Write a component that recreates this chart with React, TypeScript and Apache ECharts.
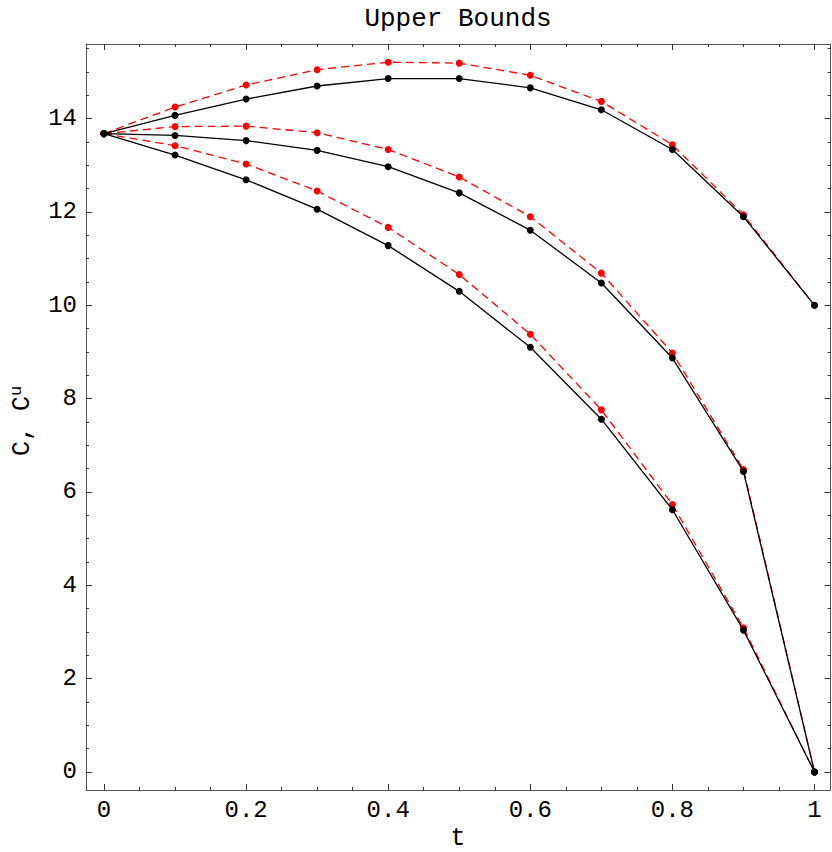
import React, { useEffect, useRef } from "react";
import * as echarts from "echarts";

const T = [0, 0.1, 0.2, 0.3, 0.4, 0.5, 0.6, 0.7, 0.8, 0.9, 1];

const TOP_C = [13.68, 14.07, 14.42, 14.7, 14.86, 14.86, 14.66, 14.19, 13.34, 11.9, 10.0];
const TOP_CU = [13.68, 14.25, 14.72, 15.05, 15.21, 15.19, 14.93, 14.37, 13.44, 11.94, 10.0];
const MID_C = [13.68, 13.64, 13.53, 13.32, 12.97, 12.41, 11.61, 10.48, 8.87, 6.44, 0];
const MID_CU = [13.68, 13.83, 13.84, 13.7, 13.34, 12.75, 11.9, 10.69, 8.98, 6.48, 0];
const LOW_C = [13.68, 13.22, 12.69, 12.06, 11.28, 10.3, 9.1, 7.56, 5.62, 3.04, 0];
const LOW_CU = [13.68, 13.42, 13.03, 12.45, 11.67, 10.66, 9.38, 7.76, 5.73, 3.09, 0];

const X_TICKS = [0, 0.2, 0.4, 0.6, 0.8, 1];
const X_TICK_LABELS = ["0", "0.2", "0.4", "0.6", "0.8", "1"];
const X_MINOR = [0.05, 0.1, 0.15, 0.25, 0.3, 0.35, 0.45, 0.5, 0.55, 0.65, 0.7, 0.75, 0.85, 0.9, 0.95];
const Y_TICKS = [0, 2, 4, 6, 8, 10, 12, 14];
const Y_TICK_LABELS = ["0", "2", "4", "6", "8", "10", "12", "14"];
const Y_MINOR = [0.5, 1, 1.5, 2.5, 3, 3.5, 4.5, 5, 5.5, 6.5, 7, 7.5, 8.5, 9, 9.5, 10.5, 11, 11.5, 12.5, 13, 13.5, 14.5, 15, 15.5];

const X_MIN = -0.0253;
const X_MAX = 1.0225;
const Y_MIN = -0.386;
const Y_MAX = 15.6;

const FONT = "Liberation Mono";
const FRAME = "#555";

function pairs(vals: number[]) {
  return T.map((t, i) => [t, vals[i]]);
}

function lookup(ticks: number[], labels: string[], v: number) {
  const i = ticks.findIndex((x) => Math.abs(x - v) < 1e-9);
  return i >= 0 ? labels[i] : "";
}

function xAxisDef(position: "top" | "bottom", major: boolean, showLabels: boolean) {
  return {
    type: "value",
    position,
    min: X_MIN,
    max: X_MAX,
    axisLine: { show: major, onZero: false, lineStyle: { color: FRAME, width: 1 } },
    axisTick: {
      show: true,
      inside: true,
      length: major ? 6 : 3,
      lineStyle: { color: "#333", width: 1 },
      customValues: major ? X_TICKS : X_MINOR,
    },
    axisLabel: {
      show: showLabels,
      customValues: X_TICKS,
      margin: 8,
      fontFamily: FONT,
      fontSize: 24,
      color: "#000",
      formatter: (v: number) => lookup(X_TICKS, X_TICK_LABELS, v),
    },
    splitLine: { show: false },
  };
}

function yAxisDef(position: "left" | "right", major: boolean, showLabels: boolean) {
  return {
    type: "value",
    position,
    min: Y_MIN,
    max: Y_MAX,
    axisLine: { show: major, onZero: false, lineStyle: { color: FRAME, width: 1 } },
    axisTick: {
      show: true,
      inside: true,
      length: major ? 6 : 3,
      lineStyle: { color: "#333", width: 1 },
      customValues: major ? Y_TICKS : Y_MINOR,
    },
    axisLabel: {
      show: showLabels,
      customValues: Y_TICKS,
      margin: 9,
      fontFamily: FONT,
      fontSize: 24,
      color: "#000",
      formatter: (v: number) => lookup(Y_TICKS, Y_TICK_LABELS, v),
    },
    splitLine: { show: false },
  };
}

function redSeries(vals: number[]) {
  return {
    type: "line",
    data: pairs(vals),
    symbol: "circle",
    symbolSize: 7,
    itemStyle: { color: "#ff0000" },
    lineStyle: { color: "#ff0000", width: 1.3, type: [8, 5] },
    z: 2,
  };
}

function blackSeries(vals: number[]) {
  return {
    type: "line",
    data: pairs(vals),
    symbol: "circle",
    symbolSize: 7,
    itemStyle: { color: "#000" },
    lineStyle: { color: "#000", width: 1.3 },
    z: 3,
  };
}

export default function App() {
  const ref = useRef<HTMLDivElement>(null);

  useEffect(() => {
    if (!ref.current) return;
    const chart = echarts.init(ref.current, undefined, { renderer: "svg" });
    chart.setOption({
      animation: false,
      backgroundColor: "#fff",
      grid: { left: 86, right: 1.5, top: 44, bottom: 62, containLabel: false },
      xAxis: [
        xAxisDef("bottom", true, true),
        xAxisDef("bottom", false, false),
        xAxisDef("top", true, false),
        xAxisDef("top", false, false),
      ],
      yAxis: [
        yAxisDef("left", true, true),
        yAxisDef("left", false, false),
        yAxisDef("right", true, false),
        yAxisDef("right", false, false),
      ],
      series: [
        redSeries(TOP_CU),
        redSeries(MID_CU),
        redSeries(LOW_CU),
        blackSeries(TOP_C),
        blackSeries(MID_C),
        blackSeries(LOW_C),
      ],
      graphic: [
        {
          type: "text",
          x: 458,
          y: 19,
          style: {
            text: "Upper Bounds",
            fontFamily: FONT,
            fontSize: 26,
            fill: "#000",
            align: "center",
            verticalAlign: "middle",
          },
        },
        {
          type: "text",
          x: 458,
          y: 838,
          style: {
            text: "t",
            fontFamily: FONT,
            fontSize: 25,
            fill: "#000",
            align: "center",
            verticalAlign: "middle",
          },
        },
        {
          type: "text",
          x: 22,
          y: 421,
          rotation: Math.PI / 2,
          style: {
            text: "C, C{sup|u}",
            fontFamily: FONT,
            fontSize: 25,
            lineHeight: 28,
            fill: "#000",
            align: "center",
            verticalAlign: "middle",
            rich: {
              sup: {
                fontFamily: FONT,
                fontSize: 17,
                fill: "#000",
                verticalAlign: "top",
                lineHeight: 28,
              },
            },
          },
        },
      ],
    });
    return () => chart.dispose();
  }, []);

  return (
    <div
      ref={ref}
      style={{ position: "absolute", left: 0, top: 0, width: 832, height: 852 }}
    />
  );
}
